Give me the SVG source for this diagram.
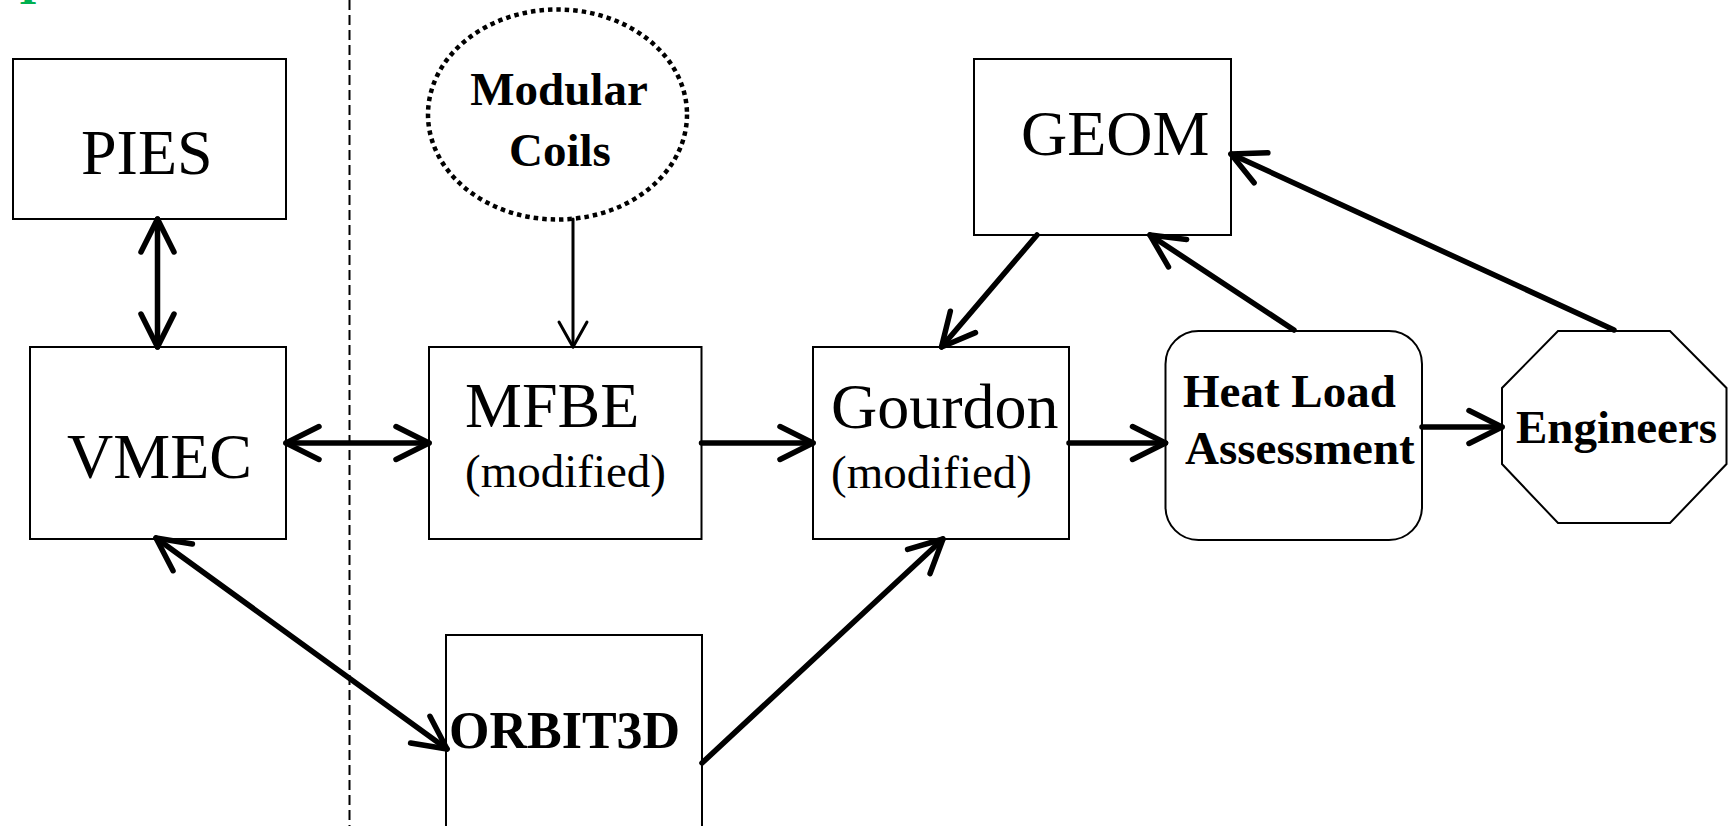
<svg xmlns="http://www.w3.org/2000/svg" width="1735" height="826" viewBox="0 0 1735 826">
<style>
.box{fill:#fff;stroke:#000;stroke-width:2}
.t{font-family:"Liberation Serif","Times New Roman",serif;fill:#000}
.big{font-size:64px}
.mid{font-size:47px}
.b{font-weight:bold}
.c{fill:none;stroke:#000;stroke-width:5.5;stroke-linecap:round}
.thin{fill:none;stroke:#000;stroke-width:3;stroke-linecap:round}
</style>
<defs>
<marker id="ah" markerUnits="userSpaceOnUse" orient="auto-start-reverse" refX="0" refY="0" markerWidth="80" markerHeight="80" viewBox="-40 -40 80 80" overflow="visible">
<path d="M-33,-16.5 L0,0 L-33,16.5" fill="none" stroke="#000" stroke-width="5.5" stroke-linecap="round" stroke-linejoin="round"/>
</marker>
<marker id="ahs" markerUnits="userSpaceOnUse" orient="auto" refX="0" refY="0" markerWidth="60" markerHeight="60" viewBox="-30 -30 60 60" overflow="visible">
<path d="M-25,-14 L0,0 L-25,14" fill="none" stroke="#000" stroke-width="3" stroke-linecap="round" stroke-linejoin="round"/>
</marker>
</defs>
<rect width="1735" height="826" fill="#fff"/>
<text class="t b" x="19" y="4" font-size="47" style="fill:#00B050">I</text>
<line x1="349.5" y1="0" x2="349.5" y2="826" stroke="#000" stroke-width="2" stroke-dasharray="10 5"/>
<g id="PIES"><rect class="box" x="13" y="59" width="273" height="160"/><text class="t big" x="81" y="174">PIES</text></g>
<g id="VMEC"><rect class="box" x="30" y="347" width="256" height="192"/><text class="t big" x="67" y="478">VMEC</text></g>
<g id="ModularCoils"><ellipse cx="557.5" cy="114.5" rx="129.5" ry="105" fill="#fff" stroke="#000" stroke-width="4.5" stroke-dasharray="4.5 4"/><text class="t mid b" x="559" y="105" text-anchor="middle">Modular</text><text class="t mid b" x="560" y="166" text-anchor="middle">Coils</text></g>
<g id="MFBE"><rect class="box" x="429" y="347" width="272.5" height="192"/><text class="t big" x="465" y="427">MFBE</text><text class="t mid" x="465" y="487">(modified)</text></g>
<g id="ORBIT3D"><rect class="box" x="446" y="635" width="256" height="200"/><text class="t b" font-size="52" x="449" y="748">ORBIT3D</text></g>
<g id="Gourdon"><rect class="box" x="813" y="347" width="256" height="192"/><text class="t big" x="831" y="428">Gourdon</text><text class="t mid" x="831" y="488">(modified)</text></g>
<g id="GEOM"><rect class="box" x="974" y="59" width="257" height="176"/><text class="t big" x="1021" y="155">GEOM</text></g>
<g id="HeatLoad"><rect class="box" x="1165.5" y="331" width="256.5" height="209" rx="33" ry="33"/><text class="t mid b" x="1183" y="407">Heat Load</text><text class="t mid b" x="1185" y="464">Assessment</text></g>
<g id="Engineers"><polygon class="box" points="1558,331 1670,331 1726.5,388 1726.5,464 1670,523 1558,523 1502,464 1502,388"/><text class="t mid b" x="1516" y="443">Engineers</text></g>
<g id="connectors">
<line class="c" x1="157.5" y1="219" x2="157.5" y2="347" marker-start="url(#ah)" marker-end="url(#ah)"/>
<line class="c" x1="286" y1="443" x2="429" y2="443" marker-start="url(#ah)" marker-end="url(#ah)"/>
<line class="thin" x1="573" y1="219" x2="573" y2="347" marker-end="url(#ahs)"/>
<line class="c" x1="701.5" y1="443" x2="813" y2="443" marker-end="url(#ah)"/>
<line class="c" x1="1069" y1="443" x2="1165.5" y2="443" marker-end="url(#ah)"/>
<line class="c" x1="1422" y1="427" x2="1502" y2="427" marker-end="url(#ah)"/>
<line class="c" x1="156" y1="538" x2="447" y2="749" marker-start="url(#ah)" marker-end="url(#ah)"/>
<line class="c" x1="702" y1="763" x2="943" y2="539" marker-end="url(#ah)"/>
<line class="c" x1="1037" y1="235" x2="941.5" y2="347" marker-end="url(#ah)"/>
<line class="c" x1="1294" y1="330" x2="1150" y2="235" marker-end="url(#ah)"/>
<line class="c" x1="1614" y1="330" x2="1231" y2="154" marker-end="url(#ah)"/>
</g>
</svg>
